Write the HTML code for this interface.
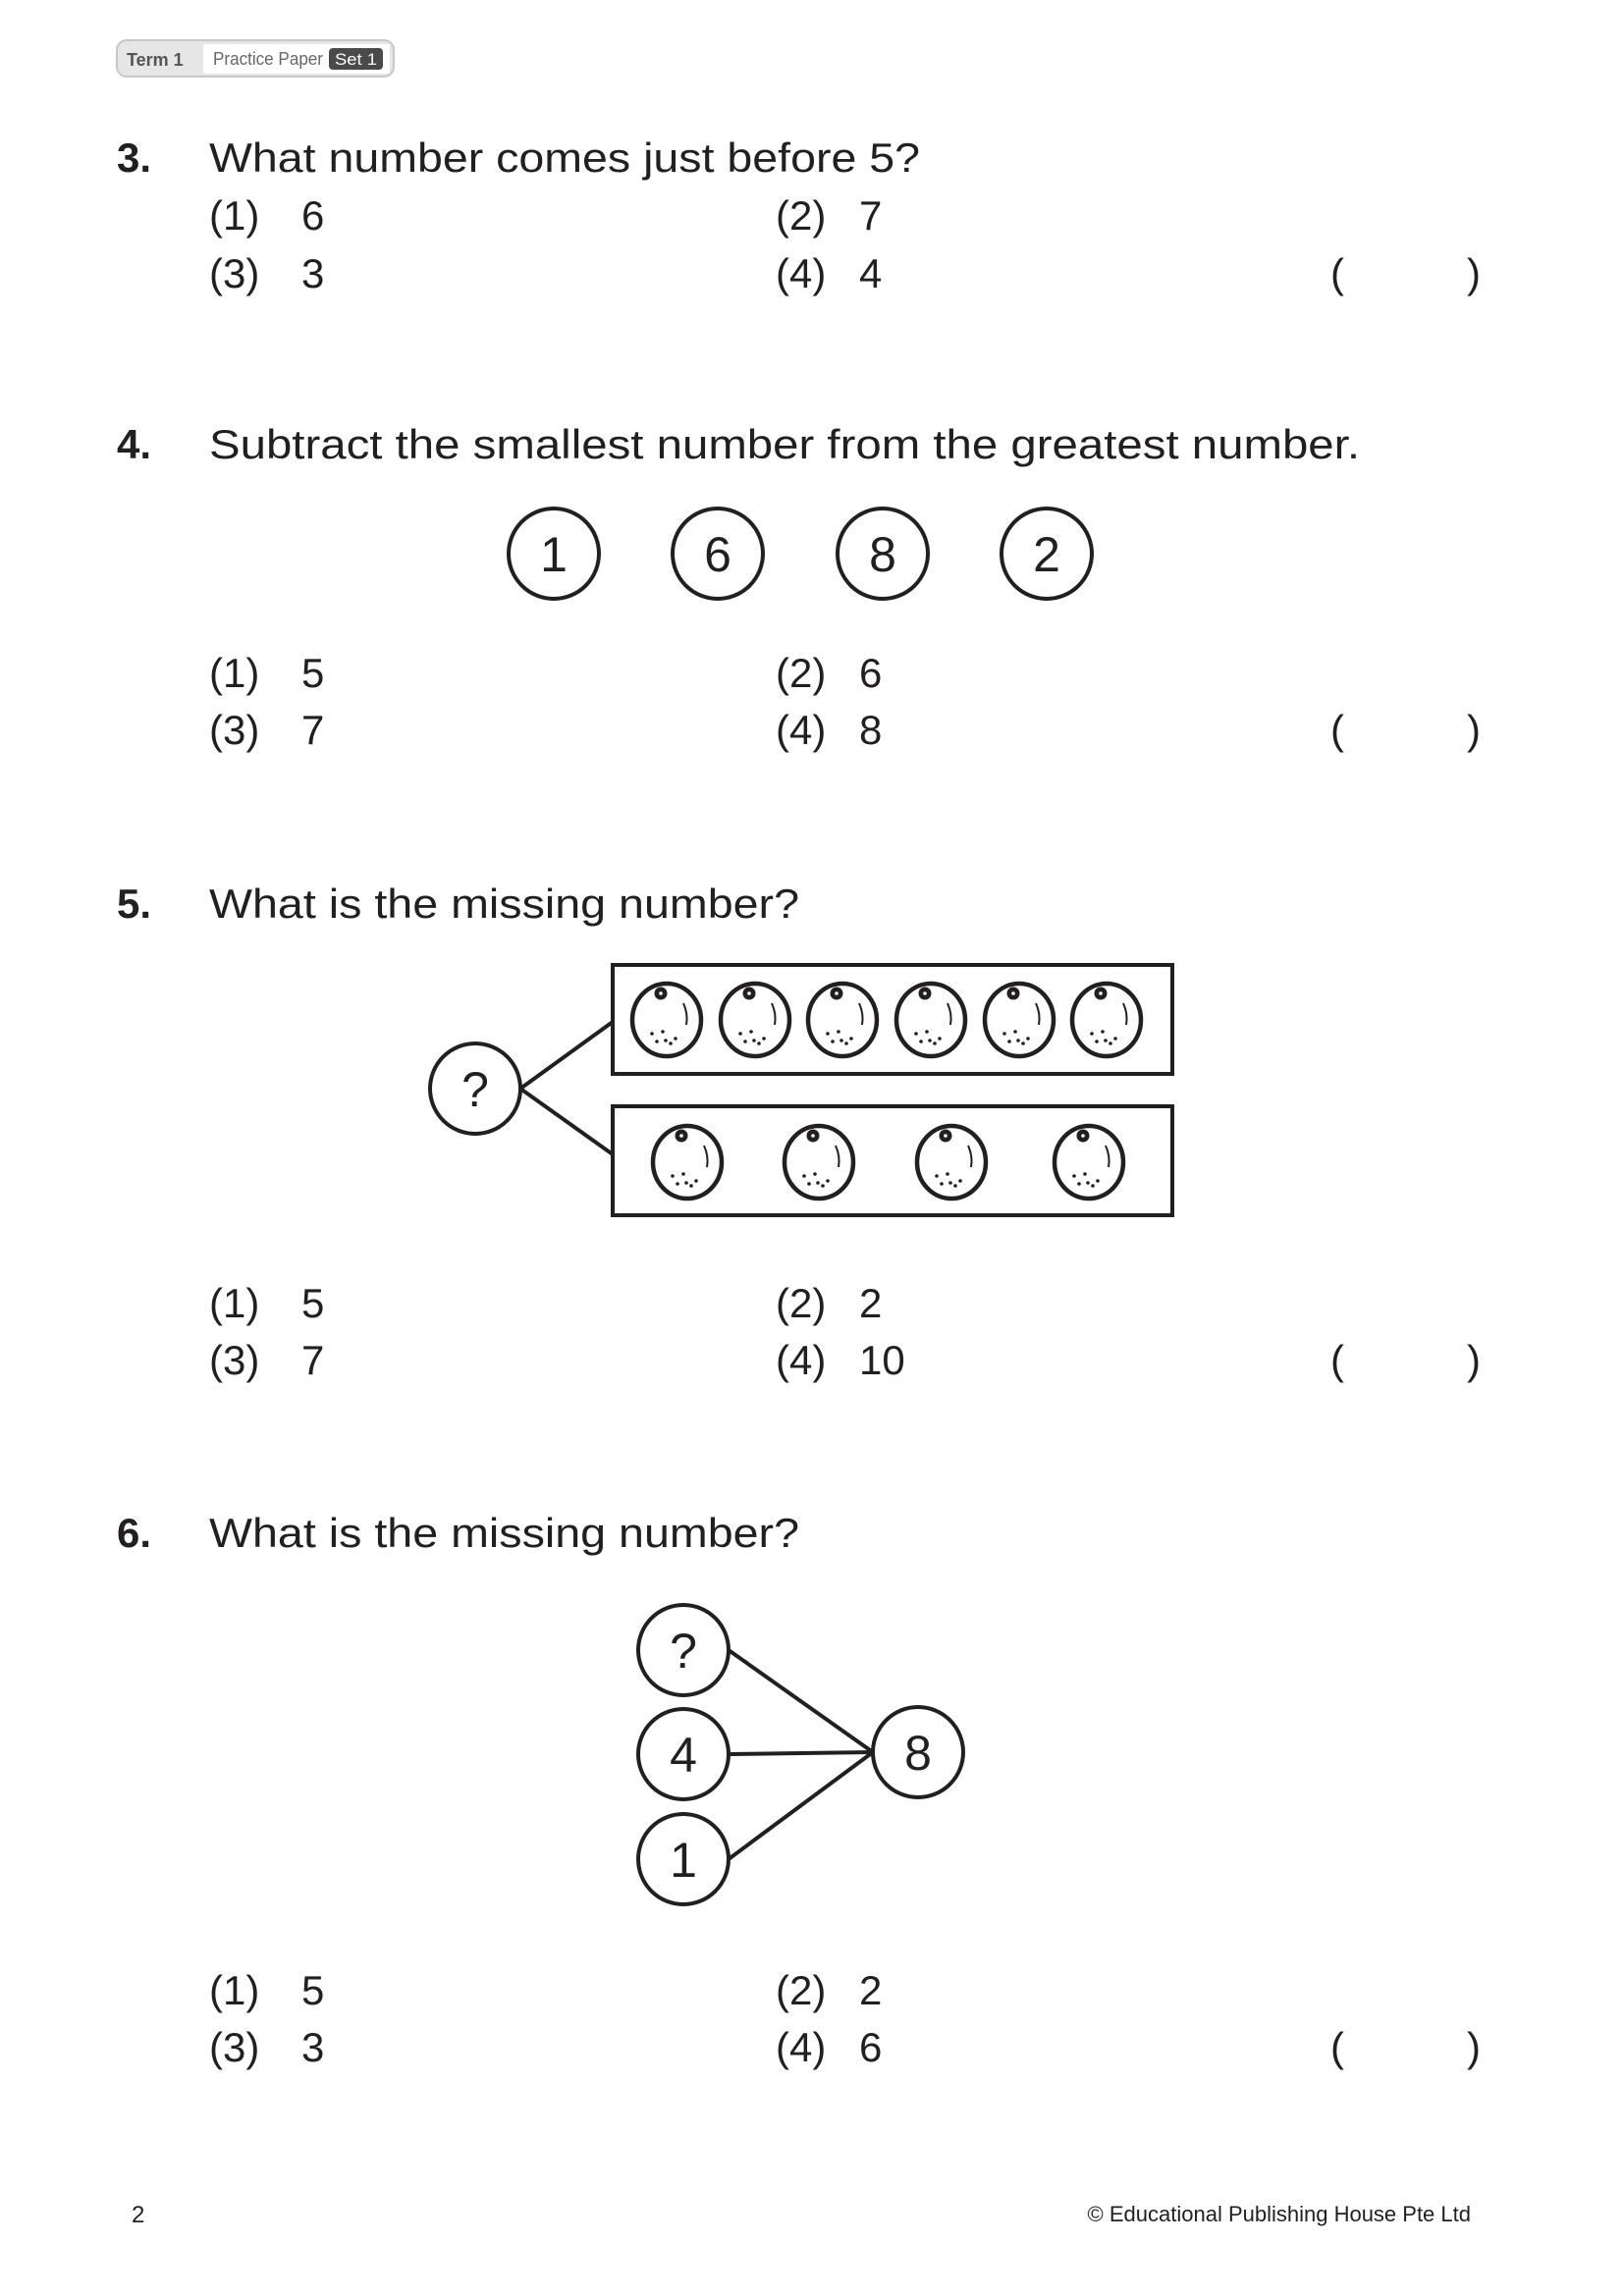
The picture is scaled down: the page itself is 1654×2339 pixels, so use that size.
<!DOCTYPE html>
<html><head><meta charset="utf-8"><style>
html,body{margin:0;padding:0;background:#fff}
svg{display:block}
text{font-family:"Liberation Sans",sans-serif;fill:#231f20}
</style></head><body>
<svg width="1654" height="2339" viewBox="0 0 1654 2339" xmlns="http://www.w3.org/2000/svg">
<defs>
<g id="or">
<ellipse cx="0" cy="0" rx="35" ry="37" fill="#fff" stroke="#231f20" stroke-width="4.5"/>
<circle cx="-6" cy="-27" r="6.5" fill="#231f20"/>
<circle cx="-6" cy="-27" r="1.8" fill="#fff"/>
<path d="M17,-17 Q22,-6 20,5" fill="none" stroke="#231f20" stroke-width="2"/>
<g fill="#231f20"><circle cx="-15" cy="14" r="1.8"/><circle cx="-4" cy="12" r="1.8"/><circle cx="-10" cy="22" r="1.8"/><circle cx="-1" cy="21" r="1.8"/><circle cx="4" cy="24" r="1.8"/><circle cx="9" cy="19" r="1.8"/></g>
</g>
</defs>
<!-- header -->
<rect x="119" y="41" width="282" height="37" rx="10" fill="#e6e6e6" stroke="#c8c8c8" stroke-width="2"/>
<rect x="207" y="45" width="190" height="30" fill="#fff"/>
<rect x="335" y="49" width="55" height="22" rx="4" fill="#4a4a4a"/>
<text x="129" y="67" font-size="18" font-weight="bold" style="fill:#555">Term 1</text>
<text x="217" y="66" font-size="18" textLength="112" lengthAdjust="spacingAndGlyphs" style="fill:#666">Practice Paper</text>
<text x="341" y="66" font-size="17" textLength="43" lengthAdjust="spacingAndGlyphs" style="fill:#fff">Set 1</text>

<g font-size="42">
<!-- Q3 -->
<text x="119" y="175" font-weight="bold">3.</text>
<text x="213" y="175" textLength="724" lengthAdjust="spacingAndGlyphs">What number comes just before 5?</text>
<text x="213" y="234">(1)</text><text x="307" y="234">6</text>
<text x="790" y="234">(2)</text><text x="875" y="234">7</text>
<text x="213" y="293">(3)</text><text x="307" y="293">3</text>
<text x="790" y="293">(4)</text><text x="875" y="293">4</text>
<text x="1355" y="293">(</text><text x="1494" y="293">)</text>
<!-- Q4 -->
<text x="119" y="467" font-weight="bold">4.</text>
<text x="213" y="467" textLength="1172" lengthAdjust="spacingAndGlyphs">Subtract the smallest number from the greatest number.</text>
<text x="213" y="700">(1)</text><text x="307" y="700">5</text>
<text x="790" y="700">(2)</text><text x="875" y="700">6</text>
<text x="213" y="758">(3)</text><text x="307" y="758">7</text>
<text x="790" y="758">(4)</text><text x="875" y="758">8</text>
<text x="1355" y="758">(</text><text x="1494" y="758">)</text>
<!-- Q5 -->
<text x="119" y="935" font-weight="bold">5.</text>
<text x="213" y="935" textLength="601" lengthAdjust="spacingAndGlyphs">What is the missing number?</text>
<text x="213" y="1342">(1)</text><text x="307" y="1342">5</text>
<text x="790" y="1342">(2)</text><text x="875" y="1342">2</text>
<text x="213" y="1400">(3)</text><text x="307" y="1400">7</text>
<text x="790" y="1400">(4)</text><text x="875" y="1400">10</text>
<text x="1355" y="1400">(</text><text x="1494" y="1400">)</text>
<!-- Q6 -->
<text x="119" y="1576" font-weight="bold">6.</text>
<text x="213" y="1576" textLength="601" lengthAdjust="spacingAndGlyphs">What is the missing number?</text>
<text x="213" y="2042">(1)</text><text x="307" y="2042">5</text>
<text x="790" y="2042">(2)</text><text x="875" y="2042">2</text>
<text x="213" y="2100">(3)</text><text x="307" y="2100">3</text>
<text x="790" y="2100">(4)</text><text x="875" y="2100">6</text>
<text x="1355" y="2100">(</text><text x="1494" y="2100">)</text>
</g>

<!-- Q4 circles -->
<g fill="none" stroke="#231f20" stroke-width="4">
<circle cx="564" cy="564" r="46"/><circle cx="731" cy="564" r="46"/><circle cx="899" cy="564" r="46"/><circle cx="1066" cy="564" r="46"/>
</g>
<g font-size="50" text-anchor="middle">
<text x="564" y="582">1</text><text x="731" y="582">6</text><text x="899" y="582">8</text><text x="1066" y="582">2</text>
</g>

<!-- Q5 diagram -->
<g fill="none" stroke="#231f20" stroke-width="4">
<rect x="624" y="983" width="570" height="111"/>
<rect x="624" y="1127" width="570" height="111"/>
<circle cx="484" cy="1109" r="46"/>
<line x1="530" y1="1109" x2="624" y2="1041"/>
<line x1="530" y1="1109" x2="624" y2="1176"/>
</g>
<text x="484" y="1127" font-size="50" text-anchor="middle">?</text>
<use href="#or" x="679" y="1039"/><use href="#or" x="769" y="1039"/><use href="#or" x="858" y="1039"/>
<use href="#or" x="948" y="1039"/><use href="#or" x="1038" y="1039"/><use href="#or" x="1127" y="1039"/>
<use href="#or" x="700" y="1184"/><use href="#or" x="834" y="1184"/><use href="#or" x="969" y="1184"/><use href="#or" x="1109" y="1184"/>

<!-- Q6 diagram -->
<g fill="none" stroke="#231f20" stroke-width="4">
<line x1="742" y1="1681" x2="889" y2="1785"/>
<line x1="742" y1="1787" x2="889" y2="1785"/>
<line x1="742" y1="1894" x2="889" y2="1785"/>
<circle cx="696" cy="1681" r="46"/><circle cx="696" cy="1787" r="46"/><circle cx="696" cy="1894" r="46"/><circle cx="935" cy="1785" r="46"/>
</g>
<g font-size="50" text-anchor="middle">
<text x="696" y="1699">?</text><text x="696" y="1805">4</text><text x="696" y="1912">1</text><text x="935" y="1803">8</text>
</g>

<!-- footer -->
<text x="134" y="2264" font-size="24">2</text>
<text x="1498" y="2263" font-size="22" text-anchor="end">© Educational Publishing House Pte Ltd</text>
</svg>
</body></html>
